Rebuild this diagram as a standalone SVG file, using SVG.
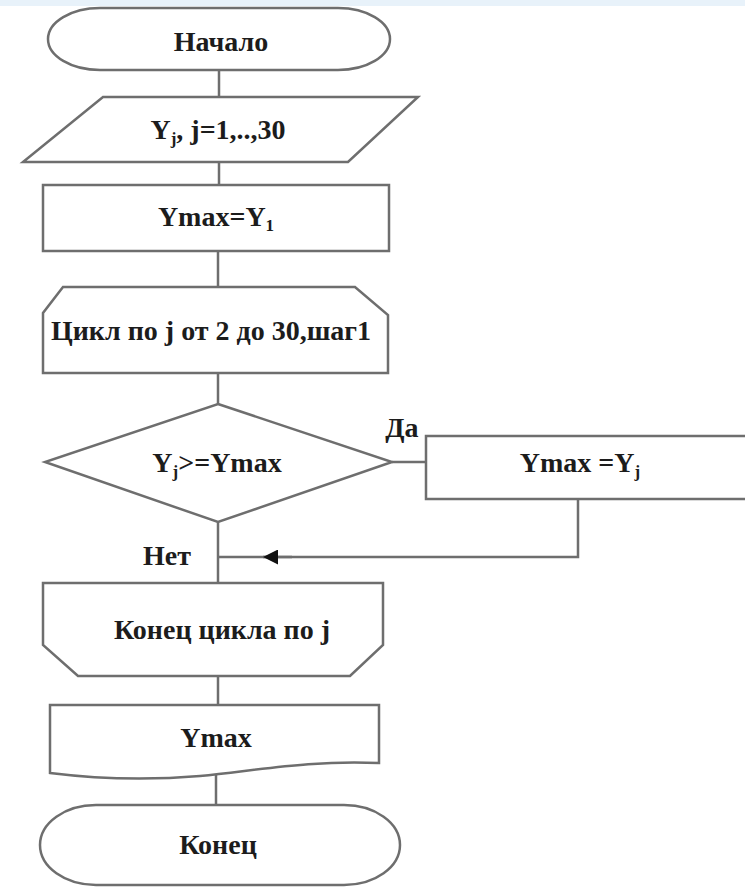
<svg xmlns="http://www.w3.org/2000/svg" width="745" height="887" viewBox="0 0 745 887">
  <style>
    .shape { fill: #ffffff; stroke: #6e6e6e; stroke-width: 2.5; }
    .link { fill: none; stroke: #6e6e6e; stroke-width: 2.5; }
    text { font-family: 'Liberation Serif', 'DejaVu Serif', serif; font-weight: bold; font-size: 28px; fill: #1c1c1c; text-anchor: middle; }
    .sub { font-size: 17px; }
  </style>
  <defs>
    <marker id="arrow" viewBox="0 0 10 10" refX="10" refY="5" markerWidth="6" markerHeight="6" orient="auto">
      <path d="M0,0 L10,5 L0,10 Z" fill="#111111"/>
    </marker>
  </defs>

  <rect x="0" y="0" width="745" height="887" fill="#ffffff"/>
  <rect x="0" y="0" width="745" height="6" fill="#e8f2fa"/>

  <!-- connectors -->
  <g id="connectors">
    <line class="link" x1="219" y1="70" x2="219" y2="97"/>
    <line class="link" x1="219" y1="162" x2="219" y2="185"/>
    <line class="link" x1="218" y1="251" x2="218" y2="287"/>
    <line class="link" x1="218" y1="373" x2="218" y2="404"/>
    <line class="link" x1="392" y1="462" x2="426" y2="462"/>
    <line class="link" x1="218" y1="522" x2="218" y2="583"/>
    <polyline class="link" points="578,499 578,557 218,557"/>
    <line class="link" x1="292" y1="557" x2="263" y2="557" marker-end="url(#arrow)"/>
    <line class="link" x1="218" y1="676" x2="218" y2="705"/>
    <line class="link" x1="216" y1="775" x2="216" y2="805"/>
    <text x="402" y="437">Да</text>
    <text x="167" y="565">Нет</text>
  </g>

  <g id="start">
    <rect class="shape" x="48" y="8" width="342" height="62" rx="52" ry="31"/>
    <text x="221" y="51">Начало</text>
  </g>

  <g id="input">
    <polygon class="shape" points="103,97 418,97 348,162 23,162"/>
    <text x="218" y="139">Y<tspan class="sub" dy="5">j</tspan><tspan dy="-5">, j=1,..,30</tspan></text>
  </g>

  <g id="init">
    <rect class="shape" x="43" y="185" width="346" height="66"/>
    <text x="216" y="226">Ymax=Y<tspan class="sub" dy="5">1</tspan></text>
  </g>

  <g id="loop-start">
    <polygon class="shape" points="63,287 355,287 388,315 388,373 43,373 43,313"/>
    <text x="211" y="340">Цикл по j от 2 до 30,шаг1</text>
  </g>

  <g id="condition">
    <polygon class="shape" points="218,404 392,462 218,522 45,462"/>
    <text x="217" y="472">Y<tspan class="sub" dy="5">j</tspan><tspan dy="-5">&gt;=Ymax</tspan></text>
  </g>

  <g id="update">
    <rect class="shape" x="426" y="436" width="340" height="63"/>
    <text x="580" y="472">Ymax =Y<tspan class="sub" dy="5">j</tspan></text>
  </g>

  <g id="loop-end">
    <polygon class="shape" points="43,583 383,583 383,645 350,676 78,676 43,645"/>
    <text x="222" y="639">Конец цикла по j</text>
  </g>

  <g id="output">
    <path class="shape" d="M50,705 L379,705 L379,763 C310,760 260,770 200,776 C140,781 90,778 50,773 Z"/>
    <text x="216" y="747">Ymax</text>
  </g>

  <g id="end">
    <rect class="shape" x="40" y="805" width="360" height="80" rx="56" ry="40"/>
    <text x="218" y="854">Конец</text>
  </g>
</svg>
